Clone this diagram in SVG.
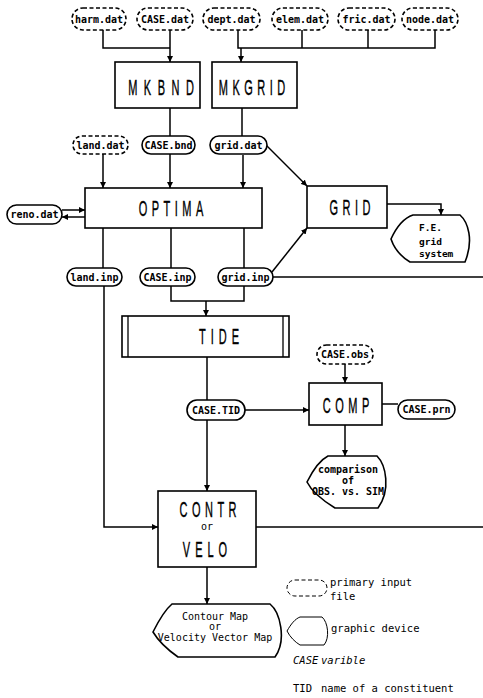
<svg xmlns="http://www.w3.org/2000/svg" width="483" height="698" viewBox="0 0 483 698">
<defs>
<marker id="ah" viewBox="0 0 10 10" refX="10" refY="5" markerWidth="6" markerHeight="6" orient="auto" markerUnits="userSpaceOnUse"><path d="M0,0 L10,5 L0,10 Z" fill="#000"/></marker>
</defs>
<style>
rect.box{fill:#fff;stroke:#000;stroke-width:1.6}
rect.pill{fill:#fff;stroke:#000;stroke-width:1.6}
rect.dpill{fill:#fff;stroke:#000;stroke-width:1.6;stroke-dasharray:4 2.5}
path.dev{fill:#fff;stroke:#000;stroke-width:1.6}
.big{font-family:"Liberation Sans",Arial,sans-serif;font-size:22px;text-anchor:middle;fill:#000;stroke:#000;stroke-width:0.4}
.pt{font-family:"DejaVu Sans Mono","Liberation Mono",monospace;font-size:10px;font-weight:bold;text-anchor:middle;dominant-baseline:central;fill:#000}
.mt{font-family:"DejaVu Sans Mono","Liberation Mono",monospace;font-size:10px;fill:#000}
.mb{font-family:"DejaVu Sans Mono","Liberation Mono",monospace;font-size:10px;font-weight:bold;fill:#000}
.fe{font-family:"DejaVu Sans Mono","Liberation Mono",monospace;font-size:9.5px;font-weight:bold;fill:#000}
.lg{font-family:"DejaVu Sans Mono","Liberation Mono",monospace;font-size:10.5px;fill:#000}
#connectors path{fill:none;stroke:#000;stroke-width:1.5}
#connectors path.a{marker-end:url(#ah)}
</style>
<rect width="483" height="698" fill="#fff"/>
<g id="connectors">
<path d="M103,30 V48 H170"/>
<path class="a" d="M170,30 V62"/>
<path d="M238,30 V48 H435 V30"/>
<path d="M302,30 V48"/>
<path d="M368,30 V48"/>
<path class="a" d="M241,48 V62"/>
<path d="M170,108 V136"/>
<path d="M242,108 V136"/>
<path class="a" d="M103,154 V188"/>
<path class="a" d="M170,154 V188"/>
<path class="a" d="M243,155 V188"/>
<path class="a" d="M266,145 L307,186"/>
<path class="a" d="M62,210 H85"/>
<path class="a" d="M85,217 H62"/>
<path class="a" d="M387,204 H441 V215"/>
<path d="M103,228 V268"/>
<path d="M171,228 V268"/>
<path d="M244,228 V268"/>
<path class="a" d="M272,272 L307,228"/>
<path d="M273,277 H483"/>
<path d="M171,286 V301 H244 V286"/>
<path class="a" d="M206,301 V316"/>
<path class="a" d="M104,286 V527 H158"/>
<path d="M207,357 V400"/>
<path class="a" d="M207,420 V491"/>
<path class="a" d="M245,410 H309"/>
<path class="a" d="M345,364 V383"/>
<path d="M382,404 H398"/>
<path class="a" d="M345,425 V456"/>
<path d="M256,527 H483"/>
<path class="a" d="M207,567 V604"/>
</g>
<g id="harm_dat"><rect class="dpill" x="72" y="8" width="54" height="22" rx="11"/><text class="pt" x="99" y="19">harm.dat</text></g>
<g id="CASE_dat"><rect class="dpill" x="137" y="8" width="56" height="22" rx="11"/><text class="pt" x="165" y="19">CASE.dat</text></g>
<g id="dept_dat"><rect class="dpill" x="203" y="8" width="57" height="22" rx="11"/><text class="pt" x="231.5" y="19">dept.dat</text></g>
<g id="elem_dat"><rect class="dpill" x="272" y="8" width="56" height="22" rx="11"/><text class="pt" x="300" y="19">elem.dat</text></g>
<g id="fric_dat"><rect class="dpill" x="338" y="8" width="57" height="22" rx="11"/><text class="pt" x="366.5" y="19">fric.dat</text></g>
<g id="node_dat"><rect class="dpill" x="402" y="8" width="56" height="22" rx="11"/><text class="pt" x="430" y="19">node.dat</text></g>
<g id="MKBND"><rect class="box" x="115" y="62" width="85" height="46"/><text class="big" transform="translate(161,95) scale(0.5,1)" style="letter-spacing:13px" x="6.5">MKBND</text></g>
<g id="MKGRID"><rect class="box" x="212" y="62" width="85" height="46"/><text class="big" transform="translate(252,95) scale(0.5,1)" style="letter-spacing:9px" x="4.5">MKGRID</text></g>
<g id="land_dat"><rect class="dpill" x="73" y="136" width="55" height="18" rx="9"/><text class="pt" x="100.5" y="145">land.dat</text></g>
<g id="CASE_bnd"><rect class="pill" x="142" y="136" width="53" height="18" rx="9"/><text class="pt" x="168.5" y="145">CASE.bnd</text></g>
<g id="grid_dat"><rect class="pill" x="210" y="136" width="57" height="18" rx="9"/><text class="pt" x="238.5" y="145">grid.dat</text></g>
<g id="OPTIMA"><rect class="box" x="85" y="188" width="177" height="40"/><text class="big" transform="translate(171,216) scale(0.5,1)" style="letter-spacing:9px" x="4.5">OPTIMA</text></g>
<g id="reno_dat"><rect class="pill" x="7" y="205" width="55" height="19" rx="9.5"/><text class="pt" x="34.5" y="214.5">reno.dat</text></g>
<g id="GRID"><rect class="box" x="307" y="186" width="80" height="42"/><text class="big" transform="translate(350,215) scale(0.5,1)" style="letter-spacing:9px" x="4.5">GRID</text></g>
<g id="FE_grid"><path class="dev" d="M391,239 C396,228 404,218 413,215 L460,215 C468,222 474,240 465,262 L410,262 C400,256 394,248 391,239 Z"/><text class="fe" x="419" y="231">F.E.</text><text class="fe" x="419" y="245">grid</text><text class="fe" x="419" y="257">system</text></g>
<g id="land_inp"><rect class="pill" x="67" y="268" width="55" height="18" rx="9"/><text class="pt" x="94.5" y="277">land.inp</text></g>
<g id="CASE_inp"><rect class="pill" x="140" y="268" width="55" height="18" rx="9"/><text class="pt" x="167.5" y="277">CASE.inp</text></g>
<g id="grid_inp"><rect class="pill" x="218" y="268" width="55" height="18" rx="9"/><text class="pt" x="245.5" y="277">grid.inp</text></g>
<g id="TIDE"><rect class="box" x="122" y="316" width="167" height="41"/><path d="M128,316 V357 M283,316 V357" stroke="#000" stroke-width="1.3" fill="none"/><text class="big" transform="translate(219,344) scale(0.5,1)" style="letter-spacing:10px" x="5">TIDE</text></g>
<g id="CASE_obs"><rect class="dpill" x="317" y="345" width="56" height="19" rx="9.5"/><text class="pt" x="345" y="354.5">CASE.obs</text></g>
<g id="CASE_TID"><rect class="pill" x="187" y="400" width="58" height="20" rx="10"/><text class="pt" x="216" y="410">CASE.TID</text></g>
<g id="COMP"><rect class="box" x="309" y="383" width="73" height="42"/><text class="big" transform="translate(346,413) scale(0.5,1)" style="letter-spacing:9px" x="4.5">COMP</text></g>
<g id="CASE_prn"><rect class="pill" x="398" y="400" width="57" height="19" rx="9.5"/><text class="pt" x="426.5" y="409.5">CASE.prn</text></g>
<g id="comparison"><path class="dev" d="M307,482 C313,470 320,460 328,456 L377,456 C386,465 391,490 378,508 L335,508 C322,500 312,492 307,482 Z"/><text class="mb" x="348" y="473" text-anchor="middle">comparison</text><text class="mb" x="348" y="484" text-anchor="middle">of</text><text class="mb" x="348" y="495" text-anchor="middle">OBS. vs. SIM</text></g>
<g id="CONTR_VELO"><rect class="box" x="158" y="491" width="98" height="76"/><text class="big" transform="translate(208,517) scale(0.5,1)" style="letter-spacing:9px" x="4.5">CONTR</text><text class="mt" x="207" y="530" text-anchor="middle" font-size="9">or</text><text class="big" transform="translate(205,557) scale(0.5,1)" style="letter-spacing:10px" x="5">VELO</text></g>
<g id="contour_map"><path class="dev" d="M153,632 C160,618 166,609 172,604 L270,604 C280,612 287,640 275,657 L178,657 C168,650 159,642 153,632 Z"/><text class="mt" x="215" y="620" text-anchor="middle">Contour Map</text><text class="mt" x="215" y="630" text-anchor="middle">or</text><text class="mt" x="215" y="641" text-anchor="middle">Velocity Vector Map</text></g>
<g id="legend">
<rect class="dpill" x="287" y="580" width="40" height="16" rx="8" style="stroke-width:1"/>
<text class="lg" x="330" y="586">primary input</text>
<text class="lg" x="330" y="600">file</text>
<path class="dev" d="M287,631 C291,624 295,619 300,617 L322,617 C328,622 330,638 324,645 L300,645 C295,642 290,637 287,631 Z" style="stroke-width:1"/>
<text class="lg" x="331" y="632">graphic device</text>
<text class="lg" x="293" y="664" font-style="italic" font-size="9.5">CASE</text>
<text class="lg" x="321" y="664" font-style="italic">varible</text>
<text class="lg" x="293" y="692">TID</text>
<text class="lg" x="321" y="692">name of a constituent</text>
</g>
</svg>
